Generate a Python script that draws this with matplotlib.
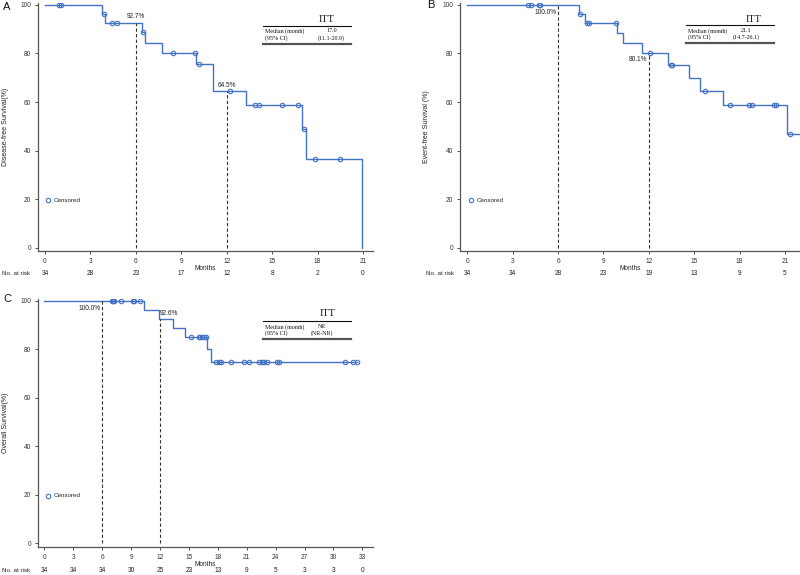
import numpy as np
import matplotlib
matplotlib.use("Agg")
import matplotlib.pyplot as plt
from matplotlib.transforms import blended_transform_factory
from matplotlib.lines import Line2D

plt.rcParams['font.family'] = ['Liberation Sans', 'DejaVu Sans']

W, H = 800, 575
BLUE = "#4472C4"
SERIF = ['Liberation Serif', 'DejaVu Serif']

# A: disease-free survival
a_time = [0, 3.75, 3.98, 6.38, 6.63, 7.75, 9.97, 11.12, 13.3, 16.97, 17.24, 20.96]
a_surv = [100, 96.4, 92.7, 88.8, 84.5, 80.2, 75.5, 64.5, 58.6, 48.8, 36.6, 0]
a_cens = [0.95, 1.05, 3.88, 4.42, 4.78, 6.47, 8.43, 9.89, 10.17, 12.2, 13.9, 14.1,
          15.67, 16.7, 17.1, 17.8, 19.46]
a_ticks = [0, 3, 6, 9, 12, 15, 18, 21]
a_risk = [34, 28, 23, 17, 12, 8, 2, 0]

# B: event-free survival
b_time = [0, 7.41, 7.79, 9.89, 10.33, 11.58, 13.3, 14.65, 15.4, 16.9, 21.14, 22.0]
b_surv = [100, 96.4, 92.7, 88.5, 84.3, 80.1, 75.3, 70.0, 64.6, 58.7, 47.0, 47.0]
b_cens = [4.04, 4.19, 4.74, 4.81, 7.48, 7.9, 8.03, 9.84, 12.05, 13.45, 13.55, 15.69,
          17.34, 18.6, 18.82, 20.3, 20.43, 21.31]
b_ticks = [0, 3, 6, 9, 12, 15, 18, 21]
b_risk = [34, 34, 28, 23, 19, 13, 9, 5]

# C: overall survival
c_time = [0, 10.38, 11.85, 13.36, 14.6, 16.92, 17.3, 32.45]
c_surv = [100, 96.2, 92.6, 88.8, 85.2, 80.0, 75.0, 75.0]
c_cens = [6.99, 7.1, 7.2, 7.96, 9.2, 9.34, 9.96, 15.22, 16.05, 16.2, 16.33, 16.57, 16.8,
          17.82, 18.13, 18.34, 19.37, 20.72, 21.24, 22.25, 22.56, 22.84, 23.11, 24.12,
          24.33, 31.17, 32.0, 32.42]
c_ticks = [0, 3, 6, 9, 12, 15, 18, 21, 24, 27, 30, 33]
c_risk = [34, 34, 34, 30, 25, 23, 13, 9, 5, 3, 3, 0]

medians = ["17.0", "21.1", "NR"]
cis = ["(11.1-20.9)", "(14.7-26.1)", "(NR-NR)"]

fig = plt.figure(figsize=(8, 5.75), dpi=100)


def fx(x):
    return x / W


def fy(y):
    return 1 - y / H


def surv_at(times, surv, t):
    i = np.searchsorted(times, t, side='right') - 1
    return surv[i]


def panel(box, xlim, times, surv, cens, ticks, risk, ylabel, ylab_x, letter, letter_xy,
          marks, table, med, ci, risk_y, months_y, nolab_x, legend_xy):
    l, t, r, b = box
    ax = fig.add_axes([fx(l), fy(b), fx(r - l), (b - t) / H])
    ax.step(times, surv, where='post', color=BLUE, lw=1.0)
    cy = [surv_at(times, surv, c) for c in cens]
    ax.plot(cens, cy, 'o', mfc='none', mec=BLUE, ms=3.2, mew=0.8)
    for xm, lab, ha, dx, dy in marks:
        yv = surv_at(times, surv, xm)
        ax.plot([xm, xm], [0, yv], color='#333333', lw=0.8, ls=(0, (3, 2)))
        ax.annotate(lab, (xm, yv), xytext=(dx, dy), textcoords='offset pixels',
                    ha=ha, va='center', fontsize=4.7, color='#222222')
    ax.set_xlim(*xlim)
    ax.set_ylim(-1.4, 100.8)
    ax.set_xticks(ticks)
    ax.set_yticks([0, 20, 40, 60, 80, 100])
    ax.tick_params(labelsize=4.7, length=2.5, width=0.6, pad=2.5, colors='#333333')
    for s in ['top', 'right']:
        ax.spines[s].set_visible(False)
    for s in ['left', 'bottom']:
        ax.spines[s].set_color('#555555')
        ax.spines[s].set_linewidth(0.9)
    fig.text(fx(ylab_x), fy((t + b) / 2), ylabel, rotation=90, ha='center', va='center',
             fontsize=5, color='#222222')
    tr = blended_transform_factory(ax.transData, fig.transFigure)
    for xv, n in zip(ticks, risk):
        ax.text(xv, fy(risk_y), str(n), transform=tr, ha='center', va='center',
                fontsize=4.7, color='#222222')
    fig.text(fx(nolab_x), fy(risk_y), "No. at risk", ha='left', va='center',
             fontsize=4.5, color='#222222')
    fig.text(fx((l + r) / 2), fy(months_y), "Months", ha='center', va='center',
             fontsize=4.7, color='#222222')
    fig.text(fx(letter_xy[0]), fy(letter_xy[1]), letter, ha='center', va='center',
             fontsize=8, color='#111111')
    # censored legend
    ax.plot([legend_xy[0]], [legend_xy[1]], 'o', mfc='none', mec=BLUE, ms=3.2,
            mew=0.8, transform=fig.transFigure)
    fig.text(legend_xy[0] + fx(6), legend_xy[1], "Censored", ha='left', va='center',
             fontsize=4.5, color='#222222')
    # median table
    tl, tr_, itt_x, itt_y, top_y, row1, row2, val_x, bot_y = table
    fig.text(fx(itt_x), fy(itt_y), "ITT", ha='center', va='center', fontsize=7.5,
             family=SERIF, color='#111111')
    fig.add_artist(Line2D([fx(tl), fx(tr_)], [fy(top_y), fy(top_y)], color='#111111', lw=0.8))
    fig.add_artist(Line2D([fx(tl), fx(tr_)], [fy(bot_y), fy(bot_y)], color='#555555', lw=1.6))
    fig.text(fx(tl + 2), fy(row1), "Median (month)", ha='left', va='center',
             fontsize=4.3, family=SERIF, color='#111111')
    fig.text(fx(tl + 2), fy(row2), "(95% CI)", ha='left', va='center',
             fontsize=4.3, family=SERIF, color='#111111')
    fig.text(fx(val_x), fy(row1), med, ha='center', va='center',
             fontsize=4.3, family=SERIF, color='#111111')
    fig.text(fx(val_x), fy(row2), ci, ha='center', va='center',
             fontsize=4.3, family=SERIF, color='#111111')
    return ax


panel((38, 3, 373, 251), (-0.46, 21.66), a_time, a_surv, a_cens, a_ticks, a_risk,
      "Disease-free Survival(%)", 5.5, "A", (7, 7),
      [(6, "92.7%", 'center', 0, 6), (12, "64.5%", 'center', 0, 6)],
      (263, 351, 327, 19.3, 26, 31, 37.7, 331.5, 43.5), medians[0], cis[0],
      273.3, 269, 2, (fx(48), fy(200)))

panel((460, 3, 800, 251), (-0.48, 22.0), b_time, b_surv, b_cens, b_ticks, b_risk,
      "Event-free Survival (%)", 427, "B", (431, 5),
      [(6, "100.0%", 'right', -1, -8), (12, "80.1%", 'right', -2, -6)],
      (686, 774, 754, 19, 24.7, 30.7, 37.3, 746, 43.3), medians[1], cis[1],
      273.3, 269, 426, (fx(470.7), fy(200)))

panel((38, 299, 373, 546.7), (-0.65, 34.1), c_time, c_surv, c_cens, c_ticks, c_risk,
      "Overall Survival(%)", 5.5, "C", (7.5, 299),
      [(6, "100.0%", 'right', -1, -8), (12, "92.6%", 'left', 0, 5)],
      (263, 351, 328, 313.3, 321, 326.7, 333.3, 322, 338.5), medians[2], cis[2],
      571, 565, 2, (fx(48), fy(495.7)))

fig.savefig("out.png", dpi=100)
